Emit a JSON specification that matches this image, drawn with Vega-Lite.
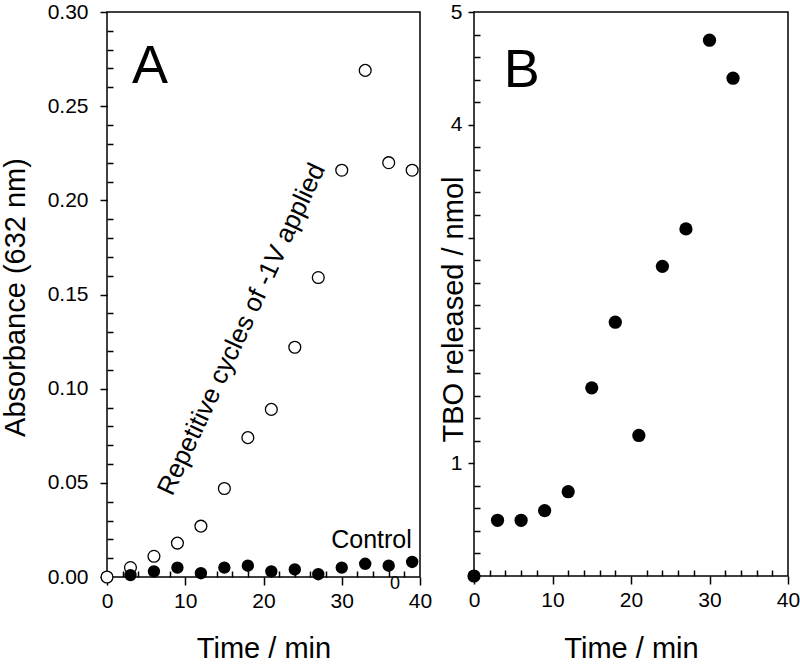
{
  "$schema": "https://vega.github.io/schema/vega-lite/v6.json",
  "padding": {"left": 0, "top": 0, "right": 2, "bottom": 0},
  "config": {
    "font": "Liberation Sans",
    "view": {"stroke": "black", "strokeWidth": 1.5},
    "axis": {
      "grid": false, "domain": false, "tickColor": "black", "tickWidth": 1.5,
      "labelColor": "black", "titleColor": "black", "labelFontSize": 21,
      "titleFontSize": 29, "titleFontWeight": "normal", "labelFlush": false,
      "labelOverlap": false
    }
  },
  "datasets": {
    "absorb": [
      {"t": 0, "abs": 0.000, "series": "Repetitive"},
      {"t": 3, "abs": 0.005, "series": "Repetitive"},
      {"t": 6, "abs": 0.011, "series": "Repetitive"},
      {"t": 9, "abs": 0.018, "series": "Repetitive"},
      {"t": 12, "abs": 0.027, "series": "Repetitive"},
      {"t": 15, "abs": 0.047, "series": "Repetitive"},
      {"t": 18, "abs": 0.074, "series": "Repetitive"},
      {"t": 21, "abs": 0.089, "series": "Repetitive"},
      {"t": 24, "abs": 0.122, "series": "Repetitive"},
      {"t": 27, "abs": 0.159, "series": "Repetitive"},
      {"t": 30, "abs": 0.216, "series": "Repetitive"},
      {"t": 33, "abs": 0.269, "series": "Repetitive"},
      {"t": 36, "abs": 0.220, "series": "Repetitive"},
      {"t": 39, "abs": 0.216, "series": "Repetitive"},
      {"t": 3, "abs": 0.001, "series": "Control"},
      {"t": 6, "abs": 0.003, "series": "Control"},
      {"t": 9, "abs": 0.005, "series": "Control"},
      {"t": 12, "abs": 0.002, "series": "Control"},
      {"t": 15, "abs": 0.005, "series": "Control"},
      {"t": 18, "abs": 0.006, "series": "Control"},
      {"t": 21, "abs": 0.003, "series": "Control"},
      {"t": 24, "abs": 0.004, "series": "Control"},
      {"t": 27, "abs": 0.0015, "series": "Control"},
      {"t": 30, "abs": 0.005, "series": "Control"},
      {"t": 33, "abs": 0.007, "series": "Control"},
      {"t": 36, "abs": 0.006, "series": "Control"},
      {"t": 39, "abs": 0.008, "series": "Control"}
    ],
    "tbo": [
      {"t": 0, "nmol": 0.0},
      {"t": 3, "nmol": 0.494},
      {"t": 6, "nmol": 0.494},
      {"t": 9, "nmol": 0.579},
      {"t": 12, "nmol": 0.747},
      {"t": 15, "nmol": 1.668},
      {"t": 18, "nmol": 2.25},
      {"t": 21, "nmol": 1.246},
      {"t": 24, "nmol": 2.745},
      {"t": 27, "nmol": 3.077},
      {"t": 30, "nmol": 4.75},
      {"t": 33, "nmol": 4.413}
    ],
    "labelsA": [
      {"x": 5.5, "y": 0.2709, "label": "A", "kind": "big"},
      {"x": 17.2, "y": 0.1315, "label": "Repetitive cycles of -1V applied", "kind": "rot"},
      {"x": 33.8, "y": 0.0194, "label": "Control", "kind": "plain"},
      {"x": 36.8, "y": -0.0035, "label": "0", "kind": "small"}
    ],
    "labelsB": [
      {"x": 6.1, "y": 4.478, "label": "B"}
    ]
  },
  "bounds": "flush",
  "spacing": 54,
  "hconcat": [
    {
      "width": 313,
      "height": 565,
      "resolve": {"axis": {"x": "independent", "y": "independent"}},
      "layer": [
        {
          "data": {"name": "absorb"},
          "transform": [{"filter": "datum.series === 'Repetitive'"}],
          "mark": {"type": "point", "shape": "circle", "filled": true, "fill": "white", "stroke": "black", "strokeWidth": 1.3, "size": 140, "opacity": 1, "clip": false},
          "encoding": {
            "x": {"field": "t", "type": "quantitative", "scale": {"domain": [0, 40]},
              "axis": {"orient": "bottom", "values": [0, 10, 20, 30, 40], "tickSize": 8, "labelPadding": 5, "title": "Time / min", "titleY": 80, "titleBaseline": "alphabetic"}},
            "y": {"field": "abs", "type": "quantitative", "scale": {"domain": [0, 0.3]},
              "axis": {"orient": "left", "values": [0, 0.05, 0.1, 0.15, 0.2, 0.25, 0.3], "format": ".2f", "tickSize": 7, "labelPadding": 12, "title": "Absorbance (632 nm)", "titleX": -83, "titleY": 285, "titleBaseline": "alphabetic"}}
          }
        },
        {
          "data": {"name": "absorb"},
          "transform": [{"filter": "datum.series === 'Control'"}],
          "mark": {"type": "point", "shape": "circle", "filled": true, "color": "black", "size": 154, "opacity": 1, "clip": false},
          "encoding": {
            "x": {"field": "t", "type": "quantitative",
              "axis": {"orient": "bottom", "values": [2, 4, 6, 8, 12, 14, 16, 18, 22, 24, 26, 28, 32, 34, 36, 38], "tickSize": -6, "labels": false, "title": null}},
            "y": {"field": "abs", "type": "quantitative",
              "axis": {"orient": "left", "values": [0.01, 0.02, 0.03, 0.04, 0.06, 0.07, 0.08, 0.09, 0.11, 0.12, 0.13, 0.14, 0.16, 0.17, 0.18, 0.19, 0.21, 0.22, 0.23, 0.24, 0.26, 0.27, 0.28, 0.29], "tickSize": -6, "labels": false, "title": null}}
          }
        },
        {
          "data": {"name": "labelsA"},
          "transform": [{"filter": "datum.kind === 'big'"}],
          "mark": {"type": "text", "fontSize": 54, "align": "center", "baseline": "middle", "color": "black"},
          "encoding": {
            "x": {"field": "x", "type": "quantitative", "axis": null},
            "y": {"field": "y", "type": "quantitative", "axis": null},
            "text": {"field": "label"}
          }
        },
        {
          "data": {"name": "labelsA"},
          "transform": [{"filter": "datum.kind === 'rot'"}],
          "mark": {"type": "text", "fontSize": 26, "align": "center", "baseline": "middle", "angle": -65, "color": "black"},
          "encoding": {
            "x": {"field": "x", "type": "quantitative", "axis": null},
            "y": {"field": "y", "type": "quantitative", "axis": null},
            "text": {"field": "label"}
          }
        },
        {
          "data": {"name": "labelsA"},
          "transform": [{"filter": "datum.kind === 'plain'"}],
          "mark": {"type": "text", "fontSize": 25, "align": "center", "baseline": "middle", "color": "black"},
          "encoding": {
            "x": {"field": "x", "type": "quantitative", "axis": null},
            "y": {"field": "y", "type": "quantitative", "axis": null},
            "text": {"field": "label"}
          }
        },
        {
          "data": {"name": "labelsA"},
          "transform": [{"filter": "datum.kind === 'small'"}],
          "mark": {"type": "text", "fontSize": 18, "align": "center", "baseline": "middle", "color": "black"},
          "encoding": {
            "x": {"field": "x", "type": "quantitative", "axis": null},
            "y": {"field": "y", "type": "quantitative", "axis": null},
            "text": {"field": "label"}
          }
        }
      ]
    },
    {
      "width": 314,
      "height": 564,
      "resolve": {"axis": {"x": "independent", "y": "independent"}},
      "layer": [
        {
          "data": {"name": "tbo"},
          "mark": {"type": "point", "shape": "circle", "filled": true, "color": "black", "size": 175, "opacity": 1, "clip": false},
          "encoding": {
            "x": {"field": "t", "type": "quantitative", "scale": {"domain": [0, 40]},
              "axis": {"orient": "bottom", "values": [0, 10, 20, 30, 40], "tickSize": 8, "labelPadding": 5, "title": "Time / min", "titleY": 81, "titleBaseline": "alphabetic"}},
            "y": {"field": "nmol", "type": "quantitative", "scale": {"domain": [0, 5]},
              "axis": {"orient": "left", "values": [0, 1, 2, 3, 4, 5], "labelExpr": "(datum.value === 1 || datum.value >= 4) ? datum.label : ''", "tickSize": 6, "labelPadding": 6, "title": "TBO released / nmol", "titleX": -12, "titleY": 297, "titleBaseline": "alphabetic"}}
          }
        },
        {
          "data": {"name": "tbo"},
          "mark": {"type": "point", "opacity": 0},
          "encoding": {
            "x": {"field": "t", "type": "quantitative",
              "axis": {"orient": "bottom", "values": [2, 4, 6, 8, 12, 14, 16, 18, 22, 24, 26, 28, 32, 34, 36, 38], "tickSize": -6, "labels": false, "title": null}},
            "y": {"field": "nmol", "type": "quantitative",
              "axis": {"orient": "left", "values": [0.2, 0.4, 0.6, 0.8, 1.2, 1.4, 1.6, 1.8, 2.2, 2.4, 2.6, 2.8, 3.2, 3.4, 3.6, 3.8, 4.2, 4.4, 4.6, 4.8], "tickSize": -6, "labels": false, "title": null}}
          }
        },
        {
          "data": {"name": "labelsB"},
          "mark": {"type": "text", "fontSize": 54, "align": "center", "baseline": "middle", "color": "black"},
          "encoding": {
            "x": {"field": "x", "type": "quantitative", "axis": null},
            "y": {"field": "y", "type": "quantitative", "axis": null},
            "text": {"field": "label"}
          }
        }
      ]
    }
  ]
}
